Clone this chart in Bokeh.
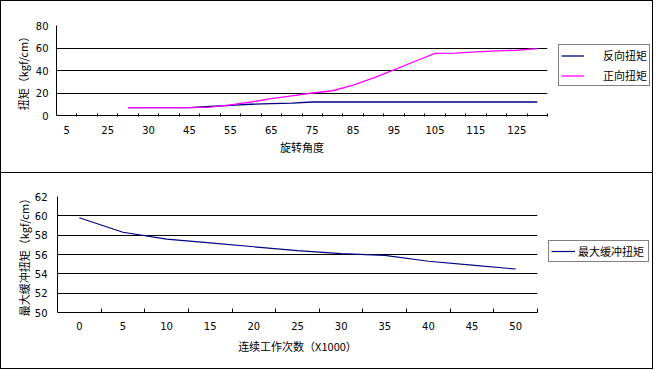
from bokeh.plotting import figure
from bokeh.models import (Range1d, FixedTicker, Legend, LegendItem, ColumnDataSource)
from bokeh.layouts import column, row
from bokeh.embed import file_html
from bokeh.resources import INLINE

# ---------------- data ----------------
# top chart: rotation angle categories (only every other category is labelled)
angle_labels = ["5", "", "25", "", "30", "", "45", "", "55", "", "65", "",
                "75", "", "85", "", "95", "", "105", "", "115", "", "125", ""]
reverse_torque = [None, None, None, 7, 7, 7, 7, 8, 9, 10, 10.5, 11, 12, 12, 12,
                  12, 12, 12, 12, 12, 12, 12, 12, 12]
forward_torque = [None, None, None, 7, 7, 7, 7, 7.5, 9.5, 12, 15, 17.5, 20, 22,
                  27, 33.5, 40.5, 48, 55.3, 55.5, 56.5, 57.5, 58, 59.5]
top_y_ticks = [0, 20, 40, 60, 80]

# bottom chart: continuous operating cycles (x1000)
cycle_labels = ["0", "5", "10", "15", "20", "25", "30", "35", "40", "45", "50"]
max_buffer_torque = [59.8, 58.3, 57.6, 57.2, 56.8, 56.4, 56.1, 55.9, 55.3, 54.9, 54.5]
bottom_y_ticks = [50, 52, 54, 56, 58, 60, 62]

CJK = "Noto Sans CJK SC"
NUM = "DejaVu Sans"
NAVY = "#000080"
MAGENTA = "#FF00FF"


def nan(v):
    return float("nan") if v is None else v


def style(p, minor_in, minor_out):
    p.outline_line_color = None
    p.background_fill_color = "white"
    p.border_fill_color = "white"
    p.xgrid.grid_line_color = None
    p.ygrid.grid_line_color = "black"
    p.ygrid.grid_line_width = 1
    for ax in (p.xaxis[0], p.yaxis[0]):
        ax.axis_line_color = "black"
        ax.axis_line_width = 1
        ax.major_label_text_font = NUM
        ax.major_label_text_font_size = "10px"
        ax.major_label_text_color = "black"
        ax.axis_label_text_font = CJK
        ax.axis_label_text_font_size = "11px"
        ax.axis_label_text_font_style = "normal"
        ax.axis_label_text_color = "black"
        ax.major_tick_in = 0
        ax.major_tick_out = 0
        ax.minor_tick_line_color = "black"
    p.yaxis[0].minor_tick_line_color = None
    p.xaxis[0].minor_tick_in = minor_in
    p.xaxis[0].minor_tick_out = minor_out


def legend_panel(width, height, x_range, top, bottom):
    # companion figure holding only the legend (its lines lie outside its view);
    # its top/bottom borders equal those of the chart beside it
    f = figure(width=width, height=height, output_backend="svg", toolbar_location=None,
               x_range=x_range, y_range=Range1d(-1000, -999),
               x_axis_location=None, y_axis_location=None,
               min_border_left=0, min_border_right=0,
               min_border_top=top, min_border_bottom=bottom)
    f.outline_line_color = None
    f.grid.visible = False
    f.background_fill_color = "white"
    f.border_fill_color = "white"
    return f


def make_legend(items, loc, **kw):
    return Legend(items=items, location=loc, orientation="vertical",
                  border_line_color="black", border_line_width=1,
                  background_fill_color="white", background_fill_alpha=1,
                  label_text_font=CJK, label_text_font_size="11px",
                  label_text_color="black", margin=0, **kw)


# ---------------- top chart ----------------
n1 = len(angle_labels)
x1 = list(range(n1))
src1 = ColumnDataSource(dict(x=x1,
                             rev=[nan(v) for v in reverse_torque],
                             fwd=[nan(v) for v in forward_torque]))
p1 = figure(width=552, height=171, output_backend="svg", toolbar_location=None,
            x_range=Range1d(-0.5, n1 - 0.5), y_range=Range1d(top_y_ticks[0], top_y_ticks[-1]),
            min_border_left=55, min_border_right=6, min_border_top=24, min_border_bottom=57)
style(p1, 2, 1)
p1.xaxis[0].ticker = FixedTicker(ticks=[i for i in x1 if angle_labels[i]],
                                 minor_ticks=[i + 0.5 for i in x1])
p1.xaxis[0].major_label_overrides = {i: angle_labels[i] for i in x1 if angle_labels[i]}
p1.yaxis[0].ticker = FixedTicker(ticks=top_y_ticks)
p1.xaxis[0].axis_label = "旋转角度"
p1.yaxis[0].axis_label = "扭矩（kgf/cm）"
p1.xaxis[0].major_label_standoff = 9
p1.xaxis[0].axis_label_standoff = 2
p1.yaxis[0].major_label_standoff = 8
p1.yaxis[0].axis_label_standoff = 2
p1.line("x", "rev", source=src1, line_color=NAVY, line_width=1.3)
p1.line("x", "fwd", source=src1, line_color=MAGENTA, line_width=1.3)

l1 = legend_panel(99, 171, Range1d(-0.5, n1 - 0.5), top=24, bottom=57)
lr_rev = l1.line("x", "rev", source=src1, line_color=NAVY, line_width=1.3)
lr_fwd = l1.line("x", "fwd", source=src1, line_color=MAGENTA, line_width=1.3)
l1.add_layout(make_legend([LegendItem(label="反向扭矩", renderers=[lr_rev]),
                           LegendItem(label="正向扭矩", renderers=[lr_fwd])],
                          (5, 29), glyph_width=23, glyph_height=13, label_height=13,
                          label_width=44, label_standoff=19, padding=2, spacing=4))

# ---------------- bottom chart ----------------
n2 = len(cycle_labels)
x2 = list(range(n2))
src2 = ColumnDataSource(dict(x=x2, y=max_buffer_torque))
p2 = figure(width=542, height=195, output_backend="svg", toolbar_location=None,
            x_range=Range1d(-0.5, n2 - 0.5), y_range=Range1d(bottom_y_ticks[0], bottom_y_ticks[-1]),
            min_border_left=56, min_border_right=6, min_border_top=23, min_border_bottom=56)
style(p2, 4, 0)
p2.xaxis[0].ticker = FixedTicker(ticks=x2, minor_ticks=[i + 0.5 for i in x2])
p2.xaxis[0].major_label_overrides = {i: cycle_labels[i] for i in x2}
p2.yaxis[0].ticker = FixedTicker(ticks=bottom_y_ticks)
p2.xaxis[0].axis_label = "连续工作次数（X1000）"
p2.yaxis[0].axis_label = "最大缓冲扭矩（kgf/cm）"
p2.xaxis[0].major_label_standoff = 9
p2.xaxis[0].axis_label_standoff = 5
p2.yaxis[0].major_label_standoff = 10
p2.yaxis[0].axis_label_standoff = 0
p2.line("x", "y", source=src2, line_color=NAVY, line_width=1.2)

l2 = legend_panel(109, 195, Range1d(-0.5, n2 - 0.5), top=23, bottom=56)
lr_buf = l2.line("x", "y", source=src2, line_color=NAVY, line_width=1.2)
l2.add_layout(make_legend([LegendItem(label="最大缓冲扭矩", renderers=[lr_buf])],
                          (5, 50), glyph_width=24, glyph_height=14, label_height=14,
                          label_width=68, label_standoff=3, padding=2, spacing=0))

top = row(p1, l1, spacing=0, styles={"border": "1px solid black"})
bottom = row(p2, l2, spacing=0, styles={"border": "1px solid black", "border-top": "none"})
layout = column(top, bottom, spacing=0)
open("out.html", "w").write(file_html(layout, INLINE))
